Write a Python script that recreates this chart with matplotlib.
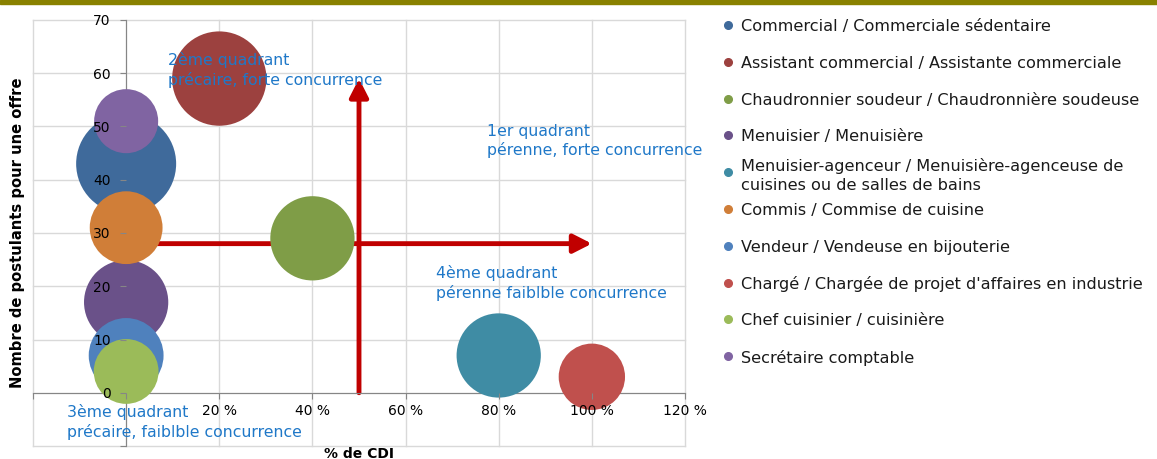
import matplotlib
matplotlib.use('Agg')
import matplotlib.pyplot as plt
from matplotlib.lines import Line2D
from matplotlib.patches import Rectangle

# Données
metiers = [
    'Commercial / Commerciale sédentaire',
    'Assistant commercial / Assistante commerciale',
    'Chaudronnier soudeur / Chaudronnière soudeuse',
    'Menuisier / Menuisière',
    'Menuisier-agenceur / Menuisière-agenceuse de\ncuisines ou de salles de bains',
    'Commis / Commise de cuisine',
    'Vendeur / Vendeuse en bijouterie',
    "Chargé / Chargée de projet d'affaires en industrie",
    'Chef cuisinier / cuisinière',
    'Secrétaire comptable',
]
pct_cdi = [0, 20, 40, 0, 80, 0, 0, 100, 0, 0]
postulants = [43, 59, 29, 17, 7, 31, 7, 3, 4, 51]
taille = [100, 89, 71, 71, 71, 53, 56, 44, 42, 41]
couleurs = ['#3F6A9B', '#9C413F', '#7F9D47', '#6A5189', '#3F8CA4',
            '#D07E38', '#4F81BD', '#C0504D', '#9BBB59', '#8064A2']

x_ticks = [-20, 0, 20, 40, 60, 80, 100, 120]
x_labels = ['', '', '20 %', '40 %', '60 %', '80 %', '100 %', '120 %']
y_ticks = [-10, 0, 10, 20, 30, 40, 50, 60, 70]
y_labels = ['', '0', '10', '20', '30', '40', '50', '60', '70']

# Seuils des quadrants (flèches)
seuil_x, fin_x = 50, 100
seuil_y, fin_y = 28, 59

quadrants = [
    (9, 64, '2ème quadrant\nprécaire, forte concurrence'),
    (77.5, 50.5, '1er quadrant\npérenne, forte concurrence'),
    (66.5, 24, '4ème quadrant\npérenne faiblble concurrence'),
    (-12.7, -2.2, '3ème quadrant\nprécaire, faiblble concurrence'),
]

W, H = 1157, 459
fig = plt.figure(figsize=(W / 100, H / 100), dpi=100)
ax = fig.add_axes([33 / W, 1 - 446 / H, 652 / W, 426 / H])

ax.set_xlim(-20, 120)
ax.set_ylim(-10, 70)

# Quadrillage (derrière tout)
for v in x_ticks:
    ax.axvline(v, color='#D9D9D9', lw=1, zorder=0.5, clip_on=False)
for v in y_ticks:
    ax.axhline(v, color='#D9D9D9', lw=1, zorder=0.5, clip_on=False)

# Flèches rouges (derrière les bulles)
fleche = dict(arrowstyle='-|>,head_length=0.55,head_width=0.28', mutation_scale=20,
              color='#C00000', lw=3.5, shrinkA=0, shrinkB=0)
ax.annotate('', xy=(fin_x, seuil_y), xytext=(0, seuil_y), arrowprops=fleche, zorder=1.5)
ax.annotate('', xy=(seuil_x, fin_y), xytext=(seuil_x, 0), arrowprops=fleche, zorder=1.5)

# Bulles
for i in range(len(metiers)):
    ax.scatter(pct_cdi[i], postulants[i], s=taille[i] * 51.84, color=couleurs[i],
               edgecolors='none', zorder=3, clip_on=False)

# Textes des quadrants
for x, y, t in quadrants:
    ax.text(x, y, t, color='#1F78C8', fontsize=11.3, va='top', ha='left',
            linespacing=1.28, zorder=4)

# Axes
ax.spines['left'].set_position(('data', 0))
ax.spines['bottom'].set_position(('data', 0))
ax.spines['top'].set_visible(False)
ax.spines['right'].set_visible(False)
for s in ['left', 'bottom']:
    ax.spines[s].set_color('#868686')
    ax.spines[s].set_zorder(2)

ax.set_xticks(x_ticks)
ax.set_xticklabels(x_labels)
ax.set_yticks(y_ticks)
ax.set_yticklabels(y_labels)
ax.tick_params(axis='x', length=4, pad=4, color='#868686', labelsize=10)
ax.tick_params(axis='y', length=4, pad=7, color='#868686', labelsize=10)
ax.xaxis.set_zorder(5)
ax.yaxis.set_zorder(5)

ax.set_xlabel('% de CDI', fontsize=10, fontweight='bold')
ax.xaxis.set_label_coords(0.5, -0.003)
ax.xaxis.label.set_va('top')
ax.set_ylabel('Nombre de postulants pour une offre', fontsize=10.6, fontweight='bold')
ax.yaxis.set_label_coords(-0.012, 0.5)

# Légende
for i, nom in enumerate(metiers):
    y = 1 - (25 + i * 36.8) / H
    fig.add_artist(Line2D([728 / W], [y], marker='o', markersize=5.5, color=couleurs[i],
                          transform=fig.transFigure))
    fig.text(741 / W, y, nom, fontsize=11.6, va='center_baseline', ha='left',
             linespacing=1.35, color='#1A1A1A')

# Bandeau en haut
fig.add_artist(Rectangle((0, 1 - 3.5 / H), 1, 3.5 / H, transform=fig.transFigure,
                         color='#898100', zorder=0))

plt.savefig('out.png', dpi=100)
